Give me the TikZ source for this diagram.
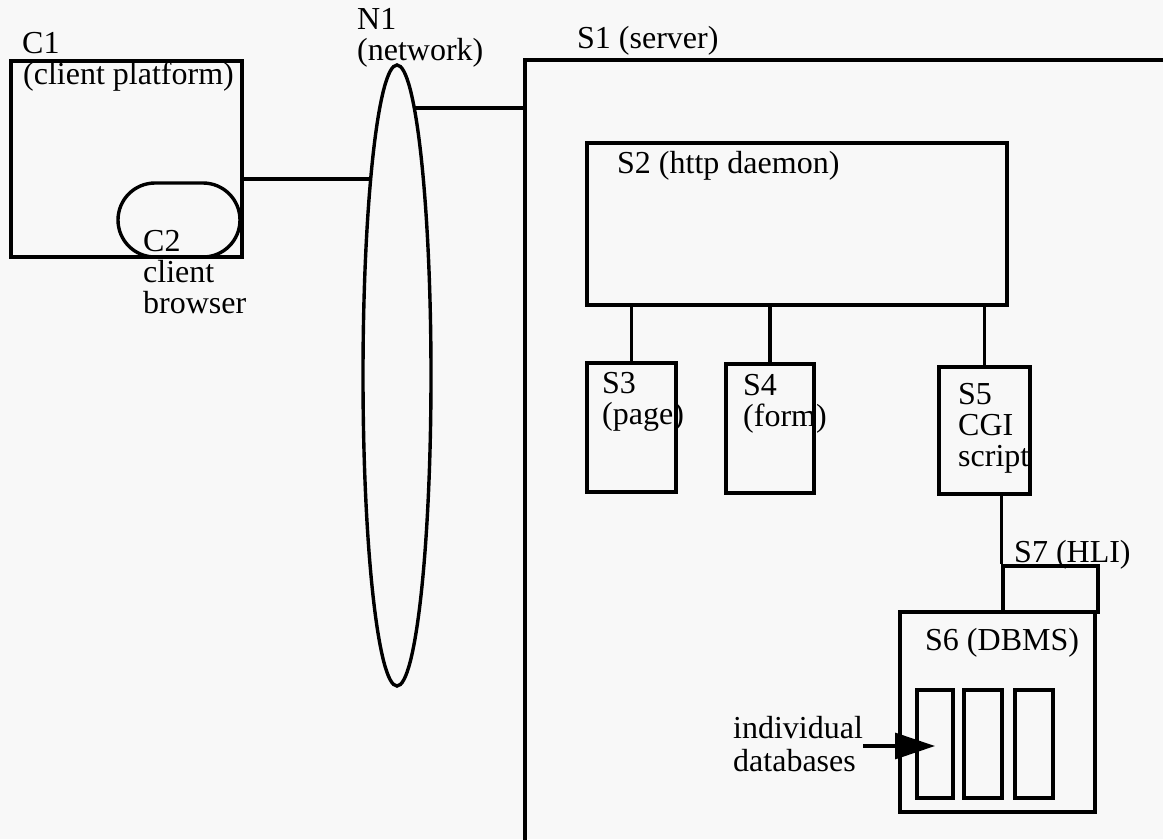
\documentclass[tikz,border=0pt]{standalone}
\usepackage{fontspec}
\setmainfont{Liberation Serif}
\usetikzlibrary{arrows.meta,shapes.geometric}
\definecolor{bg}{RGB}{248,248,248}
\begin{document}
\begin{tikzpicture}[x=1pt,y=-1pt,
  lw/.style={line width=3.4pt},
  box/.style={draw, lw, rectangle, inner sep=0pt},
  lbl/.style={inner sep=0pt, anchor=base west, align=left, font=\fontsize{32}{31}\selectfont},
  conn/.style={lw},
  arr/.style={lw, -{Triangle[length=40pt,width=26pt]}}]
\fill[bg] (0,0) rectangle (1163,839);
\useasboundingbox (0,0) rectangle (1163,839);
\clip (0,0) rectangle (1163,839);

% client side
\node[box, minimum width=231pt, minimum height=196pt] (C1) at (126.5,159) {};
\node[box, rounded corners=37pt, minimum width=122pt, minimum height=74pt] (C2) at (179,220) {};
\node[draw, lw, ellipse, inner sep=0pt, minimum width=68pt, minimum height=621pt] (N1) at (397,375.5) {};

% server side
\node[box, minimum width=775pt, minimum height=940pt] (S1) at (912.5,530) {};
\node[box, minimum width=420pt, minimum height=162pt] (S2) at (797,224) {};
\node[box, minimum width=89pt, minimum height=129pt] (S3) at (631.5,427.5) {};
\node[box, minimum width=88pt, minimum height=129pt] (S4) at (770,428.5) {};
\node[box, minimum width=91pt, minimum height=127pt] (S5) at (984.5,430.5) {};
\node[box, minimum width=95pt, minimum height=46pt] (S7) at (1050.5,589) {};
\node[box, minimum width=195pt, minimum height=200pt] (S6) at (997.5,712) {};
\node[box, minimum width=36pt, minimum height=108pt] (DB1) at (935,744) {};
\node[box, minimum width=38pt, minimum height=108pt] (DB2) at (983,744) {};
\node[box, minimum width=38pt, minimum height=108pt] (DB3) at (1034,744) {};

% connectors
\coordinate (n1l) at (371,179);
\coordinate (n1r) at (414,108);
\draw[conn] (C1.east |- n1l) -- (n1l);
\draw[conn] (n1r) -- (n1r -| S1.west);
\draw[conn] (S2.south -| S3.north) -- (S3.north);
\draw[conn] (S2.south -| S4.north) -- (S4.north);
\draw[conn] (S2.south -| S5.north) -- (S5.north);
\draw[conn] (S5.south -| S7.north west) -- (S7.north west);

% labels (anchor = baseline of last line)
\node[lbl] (C1t) at (22,53) {C1};
\node[lbl] (C1d) at (23,84) {(client platform)};
\node[lbl] (C2t) at (143,313) {C2\\client\\browser};
\node[lbl] (N1t) at (357,60) {N1\\(network)};
\node[lbl] (S1t) at (577,48) {S1 (server)};
\node[lbl] (S2t) at (617,173) {S2 (http daemon)};
\node[lbl] (S3t) at (602,424) {S3\\(page)};
\node[lbl] (S4t) at (743,426) {S4\\(form)};
\node[lbl] (S5t) at (958,466) {S5\\CGI\\script};
\node[lbl] (S7t) at (1014,562) {S7 (HLI)};
\node[lbl] (S6t) at (925,650) {S6 (DBMS)};
\node[lbl] (idb) at (733,771) {individual\\[2pt]databases};
\coordinate (tip) at (935,746);
\draw[arr] (idb.east |- tip) -- (tip);
\end{tikzpicture}
\end{document}
